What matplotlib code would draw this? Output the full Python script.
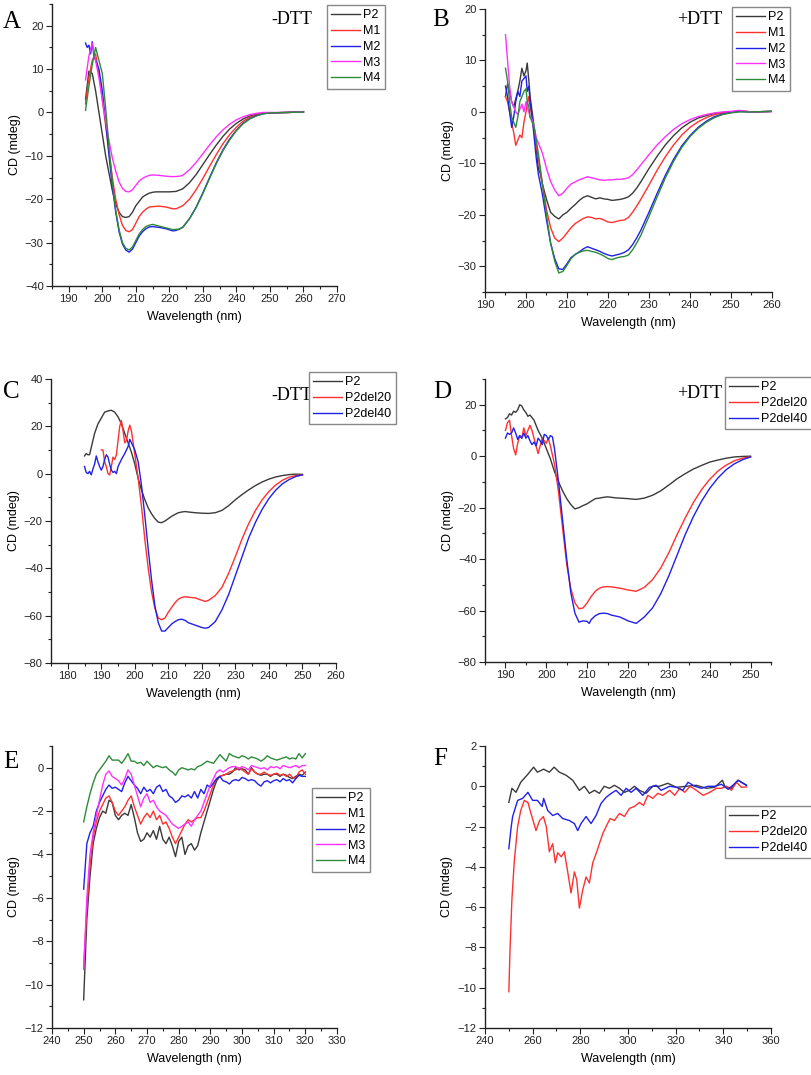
import matplotlib
matplotlib.use("Agg")
import matplotlib.pyplot as plt
from matplotlib.ticker import MultipleLocator

plt.rcParams['font.family'] = ['Liberation Sans', 'DejaVu Sans']

W, H = 812, 1075

# ---------------- Panel A (-DTT, P2 & M1-M4) ----------------
A_P2_X = [195, 196, 197, 198, 199, 200, 201, 202, 203, 204, 205, 206, 207, 208, 209, 210, 211, 212, 213, 214, 215, 216, 218, 220, 222, 224, 226, 228, 230, 232, 234, 236, 238, 240, 242, 244, 246, 248, 250, 255, 260]
A_P2_Y = [3, 9.5, 9, 5, 0, -5, -10, -14, -18, -21, -23, -24, -24.2, -24, -23, -21.5, -20.5, -19.5, -19, -18.6, -18.4, -18.3, -18.3, -18.3, -18.2, -17.6, -16.2, -14.3, -12, -9.7, -7.5, -5.5, -3.8, -2.5, -1.5, -0.8, -0.4, -0.2, -0.1, 0, 0.2]
A_M1_X = [195, 196, 197, 198, 199, 200, 201, 202, 203, 204, 205, 206, 207, 208, 209, 210, 211, 212, 213, 214, 215, 217, 219, 221, 222, 224, 226, 228, 230, 232, 234, 236, 238, 240, 242, 244, 246, 248, 250, 255, 260]
A_M1_Y = [2, 8, 12, 13.5, 9, 3, -3, -9, -15, -20, -23.5, -26, -27.2, -27.5, -27, -25.5, -24, -23, -22.3, -21.8, -21.7, -21.6, -21.8, -22.2, -22.2, -21.5, -20, -17.8, -15.2, -12.4, -9.7, -7.2, -5.1, -3.4, -2, -1.1, -0.5, -0.2, -0.1, 0, 0.1]
A_M2_X = [195, 195.5, 196, 196.5, 197, 197.5, 198, 199, 200, 201, 202, 203, 204, 205, 206, 207, 208, 209, 210, 211, 212, 213, 214, 215, 217, 219, 221, 222, 224, 226, 228, 230, 232, 234, 236, 238, 240, 242, 244, 246, 248, 250, 255, 260]
A_M2_Y = [16, 15, 15.5, 13.5, 16.3, 13, 12, 10, 5, -2, -10, -17, -23, -27.5, -30.3, -31.7, -32.2, -31.5, -30, -28.5, -27.5, -26.8, -26.4, -26.3, -26.5, -26.8, -27.3, -27.2, -26.5, -24.5, -21.8, -18.5, -15, -11.6, -8.6, -6.1, -4.1, -2.5, -1.4, -0.7, -0.3, -0.1, 0, 0.1]
A_M3_X = [195, 196, 197, 198, 199, 200, 201, 202, 203, 204, 205, 206, 207, 208, 209, 210, 211, 212, 213, 214, 215, 217, 219, 221, 223, 224, 226, 228, 230, 232, 234, 236, 238, 240, 242, 244, 246, 248, 250, 255, 260]
A_M3_Y = [7.5, 13, 16, 12, 8, 3, -2, -6.5, -10.5, -13.5, -16, -17.5, -18.2, -18.3, -17.8, -16.8, -15.8, -15.2, -14.8, -14.5, -14.4, -14.5, -14.7, -14.8, -14.7, -14.5, -13.2, -11.5, -9.5, -7.5, -5.6, -4, -2.7, -1.7, -1, -0.5, -0.2, 0, 0, 0, 0.1]
A_M4_X = [195, 196, 197, 198, 199, 200, 201, 202, 203, 204, 205, 206, 207, 208, 209, 210, 211, 212, 213, 214, 215, 217, 219, 221, 223, 224, 226, 228, 230, 232, 234, 236, 238, 240, 242, 244, 246, 248, 250, 255, 260]
A_M4_Y = [0.5, 6, 11, 15, 12, 9, 1, -8, -16, -22.5, -27, -30, -31.3, -31.7, -31, -29.5, -28, -27, -26.3, -26, -25.8, -26.2, -26.6, -27, -26.9, -26.4, -24.5, -21.9, -18.7, -15.2, -11.8, -8.8, -6.3, -4.2, -2.6, -1.5, -0.8, -0.3, -0.1, 0, 0.1]

# ---------------- Panel B (+DTT, P2 & M1-M4) ----------------
B_X = [195, 195.5, 196, 196.5, 197, 197.5, 198, 198.5, 199, 199.5, 200, 200.3, 200.7, 201, 201.5, 202, 202.5, 203, 203.5, 204, 205, 206, 207, 208, 209, 210, 211, 212, 213, 214, 215, 216, 217, 218, 219, 220, 221, 222, 223, 224, 225, 226, 227, 228, 230, 232, 234, 236, 238, 240, 242, 244, 246, 248, 250, 252, 255, 260]
B_P2_Y = [3, 5.5, 4, 2, 1, 2.5, 4, 6, 8.5, 7, 8, 9.5, 6, 3, 0, -3, -7, -11, -12, -14, -17, -19.5, -20.3, -20.8, -20, -19.5, -18.7, -18, -17.2, -16.6, -16.3, -16.6, -16.9, -16.7, -16.9, -17, -17.2, -17.1, -17, -16.8, -16.5, -15.8, -14.8, -13.6, -11, -8.6, -6.4, -4.6, -3.1, -2, -1.2, -0.7, -0.3, -0.1, 0, 0.2, 0, 0.1]
B_M1_Y = [3, 2, 0, -2, -4, -6.5, -5.5, -4.5, -5, -2, 0, 1.5, 3, 1, -1, -4, -6.5, -9, -11.5, -14, -19, -22.5, -24.5, -25.2, -24.5, -23.5, -22.5, -21.7, -21.2, -20.7, -20.4, -20.5, -20.8, -20.7, -21, -21.4, -21.5, -21.3, -21.1, -21, -20.5, -19.5, -18.3, -17, -14.2, -11.3, -8.7, -6.4, -4.5, -3, -1.9, -1.1, -0.5, -0.2, 0, 0.2, 0, 0.1]
B_M2_Y = [5, 3, 0, -3, -1, 2, 4, 3, 6, 6.5, 7, 4, 5, 2, -1, -5, -9, -12, -14, -16, -21, -25.5, -28.5, -30.5, -30.6, -29.5, -28.3, -27.7, -27.2, -26.6, -26.2, -26.5, -26.8, -27.1, -27.5, -27.8, -28, -27.8, -27.6, -27.3, -26.8, -25.8, -24.5, -23, -19.5, -15.8, -12.3, -9.2, -6.6, -4.6, -3, -1.8, -0.9, -0.4, -0.1, 0.1, 0, 0.1]
B_M3_Y = [15, 10, 5, 2, 1, 0, -0.5, 0.5, 1.5, 0, 2, 1, 0, -1, -1.5, -3, -5, -6, -7, -8, -11, -13.5, -15.2, -16.3, -15.8, -14.8, -14, -13.6, -13.2, -12.9, -12.6, -12.8, -13, -13.2, -13.3, -13.2, -13.2, -13.1, -13.1, -13, -12.8, -12.2, -11.3, -10.3, -8.3, -6.4, -4.8, -3.4, -2.3, -1.5, -0.9, -0.5, -0.2, 0, 0.1, 0.3, 0, 0.1]
B_M4_Y = [8.5, 6, 2, -1, -2, -3, -1, 2, 3, 4, 4.5, 2, 1, -1, -2, -3, -5.5, -8, -11, -14, -20, -25.5, -29, -31.3, -31, -29.8, -28.5, -27.7, -27.3, -27, -26.9, -27.1, -27.3, -27.6, -28, -28.5, -28.7, -28.4, -28.2, -28.1, -27.8, -26.8, -25.5, -24, -20.3, -16.5, -12.8, -9.6, -6.9, -4.8, -3.2, -2, -1.1, -0.5, -0.2, 0, 0, 0.1]

# ---------------- Panel C (-DTT, P2 & deletions) ----------------
C_P2_X = [185, 185.5, 186, 186.5, 187, 188, 189, 190, 191, 192, 193, 194, 195, 196, 197, 198, 199, 200, 201, 202, 203, 204, 205, 206, 207, 208, 209, 210, 211, 212, 213, 214, 215, 216, 218, 220, 222, 224, 226, 228, 230, 232, 234, 236, 238, 240, 242, 244, 246, 248, 250]
C_P2_Y = [7.5, 8.5, 8, 8, 11, 17, 21, 23.5, 26, 26.5, 26.8, 26, 24, 21, 17, 13, 9, 4, -2, -7, -11, -14.5, -17, -19, -20.5, -20.7, -20, -19, -18, -17.2, -16.5, -16.2, -16, -16.2, -16.5, -16.7, -16.8, -16.5, -15.5, -13.5, -11, -8.8, -6.8, -5, -3.5, -2.3, -1.4, -0.8, -0.4, -0.2, -0.3]
C_D20_X = [190, 190.5, 191, 191.5, 192, 192.5, 193, 193.5, 194, 194.5, 195, 195.5, 196, 196.5, 197, 197.5, 198, 198.5, 199, 199.5, 200, 201, 202, 203, 204, 205, 206, 207, 208, 209, 210, 211, 212, 213, 214, 215, 216, 218, 220, 221, 222, 224, 226, 228, 230, 232, 234, 236, 238, 240, 242, 244, 246, 248, 250]
C_D20_Y = [10, 10, 5, 3, 0, -0.5, 3, 7, 6, 8, 14, 20, 22.5, 18, 13, 14, 18, 20.5, 18, 13, 8, -2, -14, -28, -40, -50, -57, -61, -61.7, -61, -58.5, -56.5, -54.5, -53, -52.3, -52, -52.2, -52.5, -53.5, -54, -53.5, -51.5, -48, -42, -35, -27.5, -21, -15.5, -11, -7.5, -4.8, -2.8, -1.5, -0.8, -0.5]
C_D40_X = [185, 185.5, 186, 186.5, 187, 187.5, 188, 188.5, 189, 189.5, 190, 190.5, 191, 191.5, 192, 192.5, 193, 193.5, 194, 194.5, 195, 196, 197, 198, 198.5, 199, 200, 201, 202, 203, 204, 205, 206, 207, 208, 209, 210, 211, 212, 213, 214, 215, 216, 218, 220, 221, 222, 224, 226, 228, 230, 232, 234, 236, 238, 240, 242, 244, 246, 248, 250]
C_D40_Y = [3, 0.5, 0, 1, -0.5, 2, 4, 7.5, 5, 3, 1.5, 3, 6, 8, 7, 4, 1.5, 0.5, 1, 0, 3, 6, 8.5, 11.5, 14.5, 13, 10, 5, -5, -18, -32, -45, -56, -63, -66.5, -66.5, -65, -63.5, -62.5, -61.7, -61.5, -62, -63, -64, -65, -65.3, -65, -62.5, -57.5, -51, -43, -35, -27, -20.5, -15, -10.5, -7, -4.3, -2.5, -1.2, -0.5]

# ---------------- Panel D (+DTT, P2 & deletions) ----------------
D_P2_X = [190, 190.5, 191, 191.5, 192, 192.5, 193, 193.5, 194, 194.5, 195, 195.5, 196, 196.5, 197, 197.5, 198, 199, 200, 201, 202, 203, 204, 205, 206, 207, 208, 209, 210, 211, 212, 213, 214, 215, 216, 217, 218, 220, 222, 224, 226, 228, 230, 232, 234, 236, 238, 240, 242, 244, 246, 248, 250]
D_P2_Y = [14.5, 15, 16.5, 16, 17.5, 17, 18, 20, 19.5, 18, 17, 15.5, 16, 15, 14, 12, 10, 7, 3, -1, -6, -10, -13.5, -16.5, -18.8, -20.5, -20, -19.2, -18.5, -17.5, -16.5, -16.3, -16, -15.8, -16, -16.2, -16.3, -16.5, -16.8, -16.3, -15.2, -13.5, -11.2, -8.8, -6.8, -5, -3.6, -2.3, -1.5, -0.8, -0.3, -0.1, 0]
D_D20_X = [190, 190.5, 191, 191.5, 192, 192.5, 193, 193.5, 194, 194.5, 195, 195.5, 196, 196.5, 197, 197.5, 198, 198.5, 199, 199.5, 200, 200.5, 201, 202, 203, 204, 205, 206, 207, 208, 209, 210, 211, 212, 213, 214, 215, 216, 218, 220, 222, 224, 226, 228, 230, 232, 234, 236, 238, 240, 242, 244, 246, 248, 250]
D_D20_Y = [10, 13, 14, 8, 3, 0.5, 5, 8, 7, 11, 8, 10, 12, 10, 7, 4, 1, 4, 7, 6, 5, 7, 4, -3, -14, -28, -42, -51.5, -57, -59.3, -59, -57, -54.5, -52.5, -51.3, -50.8, -50.7, -50.8, -51.3, -52, -52.5, -51, -48, -43.5, -37.5, -30.5, -24, -18, -13, -9, -5.8, -3.5, -1.8, -0.8, -0.2]
D_D40_X = [190, 190.5, 191, 191.5, 192, 192.5, 193, 193.5, 194, 194.5, 195, 195.5, 196, 196.5, 197, 197.5, 198, 198.5, 199, 199.5, 200, 200.5, 201, 201.5, 202, 203, 204, 205, 206, 207, 208, 209, 210, 210.5, 211, 212, 213, 214, 215, 216, 218, 220, 222, 224, 226, 228, 230, 232, 234, 236, 238, 240, 242, 244, 246, 248, 250]
D_D40_Y = [7, 9, 8.5, 9, 11, 9, 6.5, 8, 7, 9, 7, 8, 6, 4.5, 5.5, 4, 7, 6, 4.5, 8.5, 8, 6.5, 8, 7.5, 3, -10, -25, -40, -53, -61, -64.5, -64, -64.2, -65, -63.5, -62, -61.2, -61, -61.2, -61.8, -62.5, -64, -65, -62.5, -59, -53.5, -46.5, -38.5, -30.5, -23.5, -17.5, -12.5, -8.5, -5.3, -3, -1.4, -0.3]

# ---------------- Panel E (near-UV, P2 & M1-M4) ----------------
E_X = list(range(250, 321))
E_P2_Y = [-10.7, -7, -5, -3.5, -2.8, -2.3, -2.0, -2.1, -1.5, -1.6,
          -2.2, -2.4, -2.2, -2.1, -2.2, -1.7, -2.3, -3.0, -3.4, -3.3,
          -3.0, -3.2, -2.9, -3.3, -2.7, -3.3, -3.5, -3.2, -3.6, -4.1,
          -3.4, -3.2, -4.0, -3.6, -3.5, -3.8, -3.6, -3.0, -2.5, -2.0,
          -1.5, -1.0, -0.6, -0.4, -0.35, -0.3, -0.3, -0.2, 0.0, -0.1,
          -0.05, -0.1, -0.3, 0.0, -0.2, -0.3, -0.35, -0.3, -0.3, -0.4,
          -0.3, -0.3, -0.4, -0.3, -0.35, -0.45, -0.5, -0.4, -0.3, -0.35,
          -0.2]
E_M1_Y = [-9.2, -6.5, -4.5, -3.2, -2.5, -2.0, -1.7, -1.4, -1.3, -1.6,
          -2.0, -2.2, -2.0, -1.8, -1.5, -1.3, -1.8, -2.2, -2.6, -2.3,
          -2.1, -2.3, -2.0, -2.4, -2.2, -2.6, -2.5, -2.8, -3.2, -3.5,
          -3.2, -2.9, -2.6, -2.4, -2.5, -2.4, -2.3, -2.3, -2.0, -1.6,
          -1.2, -0.8, -0.5, -0.4, -0.35, -0.3, -0.2, -0.15, -0.1, 0.0,
          -0.1, -0.2, -0.3, -0.05, -0.2, -0.3, -0.3, -0.2, -0.3, -0.35,
          -0.3, -0.25, -0.35, -0.3, -0.4, -0.3, -0.45, -0.5, -0.2, -0.1,
          -0.3]
E_M2_Y = [-5.6, -3.5, -3.0, -2.7, -2.0, -1.6, -1.3, -1.0, -0.8, -0.95,
          -0.9, -1.0, -1.1, -0.7, -0.4, -0.6, -0.8, -0.95, -1.2, -0.9,
          -1.1, -1.0, -1.2, -0.9, -0.8, -1.1, -1.0, -1.3, -1.4, -1.6,
          -1.5, -1.3, -1.35, -1.25, -1.4, -1.1, -1.4, -1.0, -1.2, -0.8,
          -0.9, -0.7, -0.5, -0.4, -0.6, -0.65, -0.75, -0.6, -0.55, -0.6,
          -0.45, -0.5, -0.6, -0.55, -0.6, -0.75, -0.85, -0.65, -0.6, -0.7,
          -0.6, -0.55, -0.65, -0.5, -0.6, -0.55, -0.7, -0.5, -0.35, -0.4,
          -0.4]
E_M3_Y = [-9.3, -6, -4, -3, -2.2, -1.5, -0.8, -0.3, -0.15, -0.4,
          -0.5, -0.6, -0.8, -0.5, -0.1, -0.3, -0.8, -1.3, -1.8, -1.4,
          -1.2, -1.6, -1.5, -1.8, -2.0, -2.1, -2.2, -2.4, -2.6, -2.7,
          -2.8, -2.7, -2.6, -2.5, -2.7, -2.4, -2.2, -2.0, -1.6, -1.2,
          -0.8, -0.5, -0.2, -0.1, -0.2, -0.1, 0.0, 0.05, 0.05, -0.05,
          0.05, 0.0, -0.1, 0.1, 0.05, 0.0, -0.05, 0.0, -0.1, 0.05,
          0.0, 0.05, -0.05, 0.1, 0.05, 0.0, 0.05, 0.1, 0.0, 0.1,
          0.1]
E_M4_Y = [-2.5, -1.8, -1.2, -0.7, -0.3, -0.1, 0.1, 0.3, 0.55, 0.35,
          0.35, 0.35, 0.2, 0.4, 0.65, 0.3, 0.3, 0.2, 0.25, 0.1,
          0.3, 0.15, 0.0, 0.1, 0.05, 0.0, 0.05, -0.1, -0.2, -0.35,
          -0.1, 0.0, -0.05, -0.1, -0.05, -0.1, 0.05, 0.1, 0.2, 0.3,
          0.25, 0.2, 0.4, 0.6, 0.45, 0.3, 0.65, 0.55, 0.5, 0.45,
          0.55, 0.5, 0.4, 0.5, 0.45, 0.4, 0.3, 0.4, 0.55, 0.45,
          0.4, 0.35, 0.4, 0.45, 0.5, 0.4, 0.45, 0.4, 0.65, 0.45,
          0.65]

# ---------------- Panel F (near-UV, P2 & deletions) ----------------
F_P2_X = [250, 251.3, 253, 255, 258, 260.4, 262, 264.6, 267, 269, 271.2, 274, 276.8, 279.6, 281.7, 283.8, 285.9, 288, 290, 292.2, 294.3, 296.4, 298.5, 300.6, 302.7, 304.8, 307.6, 310.4, 313.2, 316.7, 320.3, 324.5, 328.7, 332.9, 336.4, 339.6, 340.6, 343.4, 346.2, 348.3, 349.7]
F_P2_Y = [-0.8, -0.1, -0.3, 0.2, 0.6, 0.95, 0.7, 0.85, 0.7, 0.95, 0.7, 0.55, 0.3, -0.2, 0, -0.35, -0.2, -0.35, 0, -0.1, 0.05, -0.1, -0.3, -0.2, 0, -0.2, -0.35, 0, 0, 0.15, -0.05, 0, 0.05, -0.1, -0.05, 0.3, 0, -0.1, 0.3, 0.15, 0.05]
F_D20_X = [250, 250.5, 251.3, 252.3, 253.7, 255, 256.5, 258, 259.3, 261.4, 262.9, 264.5, 265.7, 267, 268.4, 269.5, 270.5, 272, 273.3, 274.7, 276.1, 277.5, 278.5, 279.6, 281, 282.4, 283.8, 285.2, 286.6, 288, 289.4, 290.8, 292.5, 294.3, 296.4, 298.5, 300.6, 302.7, 304.8, 306.5, 308.3, 310.4, 312.5, 314.6, 317.5, 319.6, 321.7, 323.8, 326, 328.7, 331.5, 334.3, 337.1, 339.2, 341.3, 343.4, 345.5, 347.6, 349.7]
F_D20_Y = [-10.2, -8.1, -5.6, -3.7, -2.0, -1.2, -0.7, -0.8, -1.35, -2.2, -1.7, -1.5, -2.0, -3.25, -2.85, -3.8, -3.3, -3.5, -3.25, -4.25, -5.3, -4.25, -4.65, -6.05, -5.15, -4.5, -4.8, -3.8, -3.35, -2.85, -2.35, -2.0, -1.6, -1.7, -1.35, -1.5, -1.1, -1.0, -0.8, -0.95, -0.45, -0.6, -0.35, -0.45, -0.2, -0.45, -0.1, -0.3, 0, -0.2, -0.45, -0.3, -0.1, -0.1, 0, -0.2, 0.2, -0.05, -0.03]
F_D40_X = [250, 251, 251.6, 253.7, 255.8, 258, 260, 262, 264, 264.6, 266.3, 268.4, 270.5, 272.6, 275.4, 277.5, 278.9, 280.3, 282.4, 284.5, 286.6, 288.7, 290.8, 293, 295, 297.1, 299.2, 301.3, 303.4, 306.2, 309, 311.8, 313.9, 317.5, 320.3, 323, 325.2, 328, 330.8, 333.6, 336.4, 339.2, 342, 344, 346.2, 349.7]
F_D40_Y = [-3.1, -2.0, -1.5, -0.7, -0.6, -0.3, -0.7, -0.7, -1.0, -0.6, -1.2, -1.45, -1.35, -1.6, -1.7, -1.85, -2.2, -1.85, -1.5, -1.85, -1.45, -0.85, -0.55, -0.35, -0.2, -0.45, -0.1, -0.3, -0.1, -0.45, -0.05, 0.05, -0.2, 0, -0.05, -0.2, 0.2, 0, -0.1, 0, 0, 0.1, -0.15, 0.05, 0.3, 0.05]

# ---------------- styling ----------------
C_BLACK = '#3a3a3a'
C_RED = '#ff3030'
C_BLUE = '#2020e8'
C_MAG = '#ff30ff'
C_GREEN = '#2e8b3a'

fig = plt.figure(figsize=(W / 100, H / 100), dpi=100)


def add_ax(l, r, t, b):
    return fig.add_axes([l / W, 1 - b / H, (r - l) / W, (b - t) / H])


def style(ax, xlim, ylim, xmin, ymin, xticks, yticks):
    ax.set_xlim(*xlim)
    ax.set_ylim(*ylim)
    for s in ['top', 'right']:
        ax.spines[s].set_visible(False)
    for s in ['left', 'bottom']:
        ax.spines[s].set_linewidth(1.0)
        ax.spines[s].set_color('#222222')
    ax.set_xticks(xticks)
    ax.set_yticks(yticks)
    ax.xaxis.set_minor_locator(MultipleLocator(xmin))
    ax.yaxis.set_minor_locator(MultipleLocator(ymin))
    ax.tick_params(which='major', direction='out', length=4, width=0.8, labelsize=8, pad=2, colors='#222222')
    ax.tick_params(which='minor', direction='out', length=2.5, width=0.8, colors='#222222')
    ax.set_xlabel('Wavelength (nm)', fontsize=9, labelpad=5)
    ax.set_ylabel('CD (mdeg)', fontsize=9, labelpad=3)
    ax.patch.set_alpha(0)


def ftext(x, y, s, **kw):
    fig.text(x / W, 1 - y / H, s, **kw)


def legend(handles, labels, x, y):
    lg = fig.legend(handles, labels, loc='upper left', bbox_to_anchor=(x / W, 1 - y / H),
                    bbox_transform=fig.transFigure, fancybox=False, framealpha=1,
                    edgecolor='#888888', fontsize=9, handlelength=2.3, handletextpad=0.25,
                    borderpad=0.35, labelspacing=0.3, borderaxespad=0)
    lg.get_frame().set_linewidth(1.0)
    return lg


lw = 1.0
SERIF = 'Liberation Serif'

# A
ax = add_ax(52, 337, 4, 286)
hA = [ax.plot(A_P2_X, A_P2_Y, color=C_BLACK, lw=lw)[0],
      ax.plot(A_M1_X, A_M1_Y, color=C_RED, lw=lw)[0],
      ax.plot(A_M2_X, A_M2_Y, color=C_BLUE, lw=lw)[0],
      ax.plot(A_M3_X, A_M3_Y, color=C_MAG, lw=lw)[0],
      ax.plot(A_M4_X, A_M4_Y, color=C_GREEN, lw=lw)[0]]
style(ax, (185, 270), (-40, 25), 5, 5, range(190, 271, 10), range(-40, 21, 10))
legend(hA, ['P2', 'M1', 'M2', 'M3', 'M4'], 327, 5)
ftext(3, 22, 'A', fontsize=18, family=SERIF, va='center')
ftext(271, 19, '-DTT', fontsize=13, family=SERIF, va='center')

# B
ax = add_ax(485, 772, 9, 292)
hB = [ax.plot(B_X, B_P2_Y, color=C_BLACK, lw=lw)[0],
      ax.plot(B_X, B_M1_Y, color=C_RED, lw=lw)[0],
      ax.plot(B_X, B_M2_Y, color=C_BLUE, lw=lw)[0],
      ax.plot(B_X, B_M3_Y, color=C_MAG, lw=lw)[0],
      ax.plot(B_X, B_M4_Y, color=C_GREEN, lw=lw)[0]]
style(ax, (190, 260), (-35, 20), 5, 5, range(190, 261, 10), range(-30, 21, 10))
legend(hB, ['P2', 'M1', 'M2', 'M3', 'M4'], 732, 7)
ftext(432, 20, 'B', fontsize=18, family=SERIF, va='center')
ftext(677, 19, '+DTT', fontsize=13, family=SERIF, va='center')

# C
ax = add_ax(51, 336, 379, 663)
hC = [ax.plot(C_P2_X, C_P2_Y, color=C_BLACK, lw=lw)[0],
      ax.plot(C_D20_X, C_D20_Y, color=C_RED, lw=lw)[0],
      ax.plot(C_D40_X, C_D40_Y, color=C_BLUE, lw=lw)[0]]
style(ax, (175, 260), (-80, 40), 5, 10, range(180, 261, 10), range(-80, 41, 20))
ftext(271, 395, '-DTT', fontsize=13, family=SERIF, va='center')
legend(hC, ['P2', 'P2del20', 'P2del40'], 309, 372)
ftext(3, 392, 'C', fontsize=18, family=SERIF, va='center')

# D
ax = add_ax(485, 771, 379, 662)
hD = [ax.plot(D_P2_X, D_P2_Y, color=C_BLACK, lw=lw)[0],
      ax.plot(D_D20_X, D_D20_Y, color=C_RED, lw=lw)[0],
      ax.plot(D_D40_X, D_D40_Y, color=C_BLUE, lw=lw)[0]]
style(ax, (185, 255), (-80, 30), 5, 10, range(190, 251, 10), range(-80, 21, 20))
legend(hD, ['P2', 'P2del20', 'P2del40'], 725, 377)
ftext(433, 392, 'D', fontsize=18, family=SERIF, va='center')
ftext(677, 393, '+DTT', fontsize=13, family=SERIF, va='center')

# E
ax = add_ax(52, 337, 746, 1028)
hE = [ax.plot(E_X, E_P2_Y, color=C_BLACK, lw=lw)[0],
      ax.plot(E_X, E_M1_Y, color=C_RED, lw=lw)[0],
      ax.plot(E_X, E_M2_Y, color=C_BLUE, lw=lw)[0],
      ax.plot(E_X, E_M3_Y, color=C_MAG, lw=lw)[0],
      ax.plot(E_X, E_M4_Y, color=C_GREEN, lw=lw)[0]]
style(ax, (240, 330), (-12, 1), 5, 1, range(240, 331, 10), range(-12, 1, 2))
legend(hE, ['P2', 'M1', 'M2', 'M3', 'M4'], 312, 788)
ftext(3, 762, 'E', fontsize=18, family=SERIF, va='center')

# F
ax = add_ax(485, 771, 746, 1028)
hF = [ax.plot(F_P2_X, F_P2_Y, color=C_BLACK, lw=lw)[0],
      ax.plot(F_D20_X, F_D20_Y, color=C_RED, lw=lw)[0],
      ax.plot(F_D40_X, F_D40_Y, color=C_BLUE, lw=lw)[0]]
style(ax, (240, 360), (-12, 2), 10, 1, range(240, 361, 20), range(-12, 3, 2))
legend(hF, ['P2', 'P2del20', 'P2del40'], 725, 806)
ftext(433, 759, 'F', fontsize=18, family=SERIF, va='center')

fig.savefig('out.png', dpi=100)
